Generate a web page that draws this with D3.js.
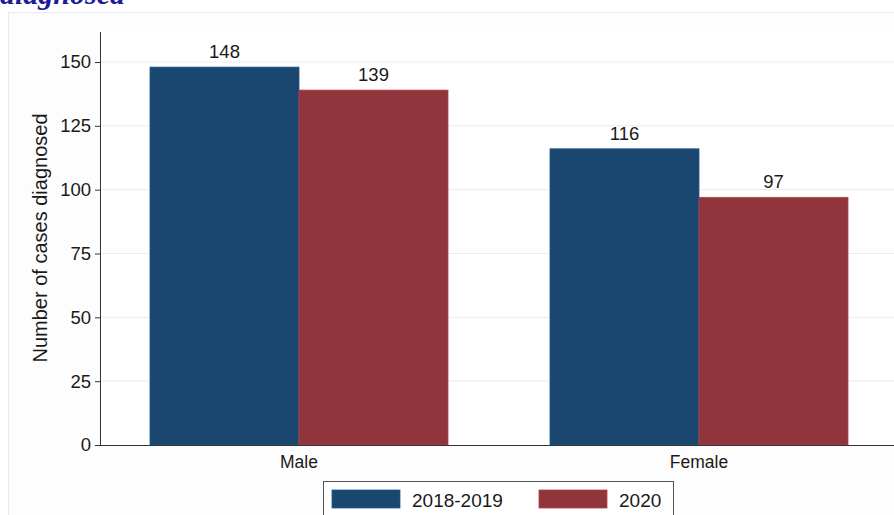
<!DOCTYPE html>
<html>
<head>
<meta charset="utf-8">
<script src="https://cdn.jsdelivr.net/npm/d3@7"></script>
<style>
  body { margin: 0; background: #fff; overflow: hidden; }
  text { font-family: "Liberation Sans", Arial, sans-serif; fill: #1a1a1a; }
</style>
</head>
<body>
<script>
// data
var groups = ["Male", "Female"];
var series = ["2018-2019", "2020"];
var values2018 = [148, 116];
var values2020 = [139, 97];
var yTicks = [0, 25, 50, 75, 100, 125, 150];
var colors = ["#1a476f", "#90353b"];

var width = 894, height = 515;

var svg = d3.select("body").append("svg")
  .attr("width", width)
  .attr("height", height);

// outer graph region (cropped on the right and bottom)
svg.append("rect")
  .attr("x", 8.5).attr("y", 12.5)
  .attr("width", width).attr("height", height)
  .attr("fill", "#fdfdfd")
  .attr("stroke", "#e6ecee");

// clipped title from above the chart
svg.append("text")
  .attr("x", 0).attr("y", 4)
  .style("font-family", "'Liberation Serif', serif")
  .style("font-weight", "bold")
  .style("font-style", "italic")
  .style("font-size", "30px")
  .style("fill", "#1c1c9a")
  .text("diagnosed");

var x0 = d3.scaleBand()
  .domain(groups)
  .range([100, 898])
  .paddingInner(0.255)
  .paddingOuter(0.125);

var x1 = d3.scaleBand()
  .domain(series)
  .range([0, x0.bandwidth()]);

var y = d3.scaleLinear()
  .domain([0, 150])
  .range([445, 62]);

// plot region
svg.append("rect")
  .attr("x", 100).attr("y", 32)
  .attr("width", width - 100).attr("height", 413)
  .attr("fill", "#fff");

// gridlines
svg.append("g")
  .selectAll("line")
  .data(yTicks.filter(function(d) { return d > 0; }))
  .enter().append("line")
  .attr("x1", 100).attr("x2", width)
  .attr("y1", function(d) { return y(d); })
  .attr("y2", function(d) { return y(d); })
  .attr("stroke", "#e8f0f1")
  .attr("stroke-width", 1.2);

var rows = groups.map(function(g, i) {
  return { group: g, vals: [values2018[i], values2020[i]] };
});

var bars = svg.append("g")
  .selectAll("g")
  .data(rows)
  .enter().append("g")
  .attr("transform", function(d) { return "translate(" + x0(d.group) + ",0)"; });

bars.selectAll("rect")
  .data(function(d) { return d.vals.map(function(v, j) { return { s: series[j], v: v, j: j }; }); })
  .enter().append("rect")
  .attr("x", function(d) { return x1(d.s); })
  .attr("y", function(d) { return y(d.v); })
  .attr("width", x1.bandwidth())
  .attr("height", function(d) { return y(0) - y(d.v); })
  .attr("fill", function(d) { return colors[d.j]; })
  .attr("stroke", function(d) { return d3.color(colors[d.j]).brighter(0.6); })
  .attr("stroke-width", 0.8);

bars.selectAll("text")
  .data(function(d) { return d.vals.map(function(v, j) { return { s: series[j], v: v }; }); })
  .enter().append("text")
  .attr("x", function(d) { return x1(d.s) + x1.bandwidth() / 2; })
  .attr("y", function(d) { return y(d.v) - 9; })
  .attr("text-anchor", "middle")
  .style("font-size", "18.5px")
  .text(function(d) { return d.v; });

// y axis
var yAxis = svg.append("g")
  .attr("transform", "translate(100,0)")
  .call(d3.axisLeft(y).tickValues(yTicks).tickSize(5).tickPadding(4));
yAxis.select(".domain").remove();
yAxis.selectAll(".tick line").attr("stroke", "#333");
yAxis.selectAll(".tick text")
  .style("font-size", "18.5px")
  .style("font-family", "'Liberation Sans', Arial, sans-serif")
  .attr("fill", "#1a1a1a");
svg.append("line")
  .attr("x1", 100.5).attr("x2", 100.5)
  .attr("y1", 32).attr("y2", 445.5)
  .attr("stroke", "#333");

// x axis
var xAxis = svg.append("g")
  .attr("transform", "translate(0,445)")
  .call(d3.axisBottom(x0).tickSize(0).tickPadding(11));
xAxis.select(".domain").remove();
xAxis.selectAll(".tick text")
  .style("font-size", "17.5px")
  .style("font-family", "'Liberation Sans', Arial, sans-serif")
  .attr("fill", "#1a1a1a");
svg.append("line")
  .attr("x1", 100).attr("x2", width)
  .attr("y1", 445.5).attr("y2", 445.5)
  .attr("stroke", "#333");

// y axis title
svg.append("text")
  .attr("transform", "translate(47,238) rotate(-90)")
  .attr("text-anchor", "middle")
  .style("font-size", "20px")
  .text("Number of cases diagnosed");

// legend
var legend = svg.append("g");
legend.append("rect")
  .attr("x", 323.5).attr("y", 481.5)
  .attr("width", 350).attr("height", 50)
  .attr("fill", "#fff")
  .attr("stroke", "#555");

var items = legend.selectAll("g.item")
  .data(series)
  .enter().append("g")
  .attr("class", "item")
  .attr("transform", function(d, i) { return "translate(" + (332 + i * 207) + ",490)"; });
items.append("rect")
  .attr("width", 68).attr("height", 18)
  .attr("fill", function(d, i) { return colors[i]; })
  .attr("stroke", function(d, i) { return d3.color(colors[i]).brighter(0.6); })
  .attr("stroke-width", 0.8);
items.append("text")
  .attr("x", 80).attr("y", 17)
  .style("font-size", "19px")
  .text(function(d) { return d; });
</script>
</body>
</html>
